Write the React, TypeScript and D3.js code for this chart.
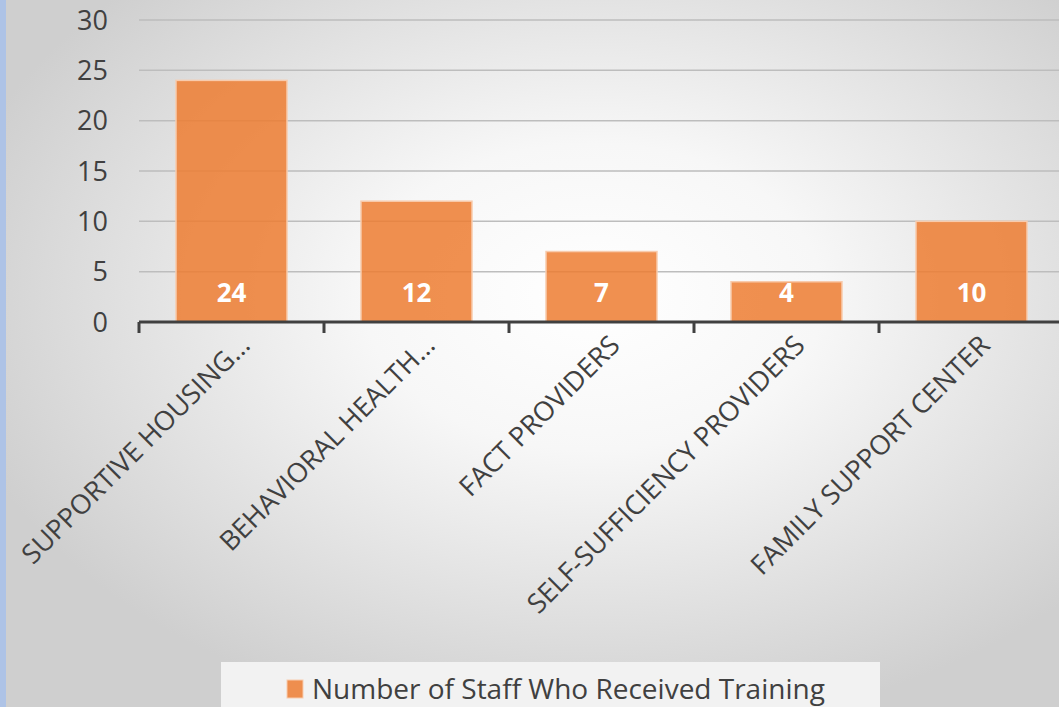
import React, { useEffect, useRef } from 'react';
import * as d3 from 'd3';

const categories = [
  'SUPPORTIVE HOUSING…',
  'BEHAVIORAL HEALTH…',
  'FACT PROVIDERS',
  'SELF-SUFFICIENCY PROVIDERS',
  'FAMILY SUPPORT CENTER',
];
const staffTrained = [24, 12, 7, 4, 10];
const yTicks = [0, 5, 10, 15, 20, 25, 30];
const seriesName = 'Number of Staff Who Received Training';

const W = 1059;
const H = 707;
const PLOT = { left: 139, right: 1064, top: 20, bottom: 322 };
const FONT = '"Open Sans", Lato, sans-serif';
const TEXT = '#404040';

export default function App() {
  const svgRef = useRef<SVGSVGElement>(null);

  useEffect(() => {
    const svg = d3.select(svgRef.current);
    svg.selectAll('*').remove();

    const defs = svg.append('defs');
    const bg = defs
      .append('radialGradient')
      .attr('id', 'bg')
      .attr('cx', '56%')
      .attr('cy', '42%')
      .attr('r', '62%');
    bg.append('stop').attr('offset', '0%').attr('stop-color', '#ffffff');
    bg.append('stop').attr('offset', '35%').attr('stop-color', '#f7f7f7');
    bg.append('stop').attr('offset', '100%').attr('stop-color', '#cfcfcf');

    svg.append('rect').attr('width', W).attr('height', H).attr('fill', 'url(#bg)');
    svg.append('rect').attr('width', 6).attr('height', H).attr('fill', '#aec3e6');

    const x = d3.scaleBand().domain(categories).range([PLOT.left, PLOT.right]).paddingInner(0.4).paddingOuter(0.2);
    const y = d3.scaleLinear().domain([0, 30]).range([PLOT.bottom, PLOT.top]);

    // gridlines
    svg
      .append('g')
      .selectAll('line')
      .data(yTicks.filter((t) => t > 0))
      .join('line')
      .attr('x1', PLOT.left)
      .attr('x2', W)
      .attr('y1', (d) => y(d))
      .attr('y2', (d) => y(d))
      .attr('stroke', '#bdbdbd')
      .attr('stroke-width', 1.5);

    // y labels
    svg
      .append('g')
      .selectAll('text')
      .data(yTicks)
      .join('text')
      .attr('x', 108)
      .attr('y', (d) => y(d))
      .attr('dy', '0.36em')
      .attr('text-anchor', 'end')
      .attr('font-family', FONT)
      .attr('font-size', 27)
      .attr('fill', TEXT)
      .text((d) => d);

    // bars
    const bars = svg.append('g');
    bars
      .selectAll('rect')
      .data(staffTrained)
      .join('rect')
      .attr('x', (_, i) => x(categories[i])!)
      .attr('width', x.bandwidth())
      .attr('y', (d) => y(d))
      .attr('height', (d) => y(0) - y(d))
      .attr('fill', '#ed7d31')
      .attr('fill-opacity', 0.85)
      .attr('stroke', '#f8cbad')
      .attr('stroke-width', 1.5);

    bars
      .selectAll('text')
      .data(staffTrained)
      .join('text')
      .attr('x', (_, i) => x(categories[i])! + x.bandwidth() / 2)
      .attr('y', y(0) - 20)
      .attr('text-anchor', 'middle')
      .attr('font-family', FONT)
      .attr('font-weight', 700)
      .attr('font-size', 26)
      .attr('fill', '#ffffff')
      .text((d) => d);

    // x axis
    const step = (PLOT.right - PLOT.left) / categories.length;
    const axis = svg.append('g').attr('stroke', '#404040').attr('stroke-width', 3);
    axis.append('line').attr('x1', PLOT.left).attr('x2', W).attr('y1', y(0)).attr('y2', y(0));
    axis
      .selectAll('line.tick')
      .data(d3.range(categories.length))
      .join('line')
      .attr('class', 'tick')
      .attr('x1', (i) => PLOT.left + i * step)
      .attr('x2', (i) => PLOT.left + i * step)
      .attr('y1', y(0))
      .attr('y2', y(0) + 11);

    svg
      .append('g')
      .selectAll('text')
      .data(categories)
      .join('text')
      .attr('transform', (d) => `translate(${x(d)! + x.bandwidth() / 2 + 20},${y(0) + 25}) rotate(-45)`)
      .attr('text-anchor', 'end')
      .attr('font-family', FONT)
      .attr('font-size', 27)
      .attr('fill', TEXT)
      .text((d) => d);

    // legend
    const lg = svg.append('g');
    lg.append('rect').attr('x', 221).attr('y', 662).attr('width', 659).attr('height', 50).attr('fill', '#f2f2f2');
    lg.append('rect')
      .attr('x', 287)
      .attr('y', 680)
      .attr('width', 16)
      .attr('height', 18)
      .attr('fill', '#ed7d31')
      .attr('fill-opacity', 0.85)
      .attr('stroke', '#f8cbad');
    lg.append('text')
      .attr('x', 312)
      .attr('y', 699)
      .attr('font-family', FONT)
      .attr('font-size', 28)
      .attr('fill', TEXT)
      .text(seriesName);
  }, []);

  return (
    <svg
      ref={svgRef}
      width={W}
      height={H}
      style={{ position: 'absolute', left: 0, top: 0, display: 'block' }}
    />
  );
}
